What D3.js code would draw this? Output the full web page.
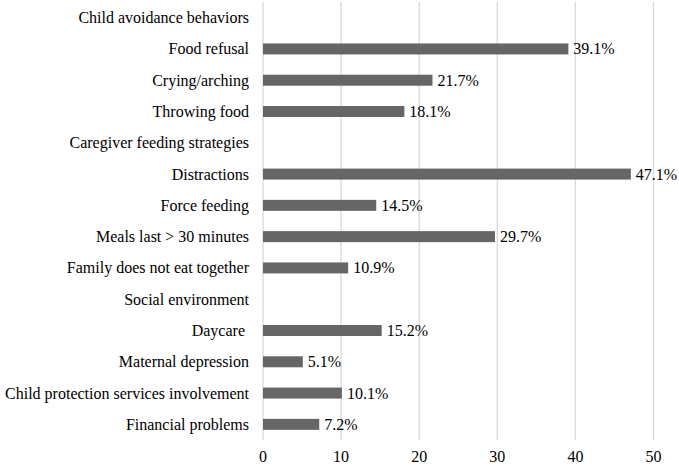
<!DOCTYPE html>
<html><head><meta charset="utf-8">
<script src="https://cdn.jsdelivr.net/npm/d3@7"></script>
</head><body style="margin:0"><svg id="c" width="679" height="467"></svg>
<script>
const categories = ["Child avoidance behaviors","Food refusal","Crying/arching","Throwing food","Caregiver feeding strategies","Distractions","Force feeding","Meals last > 30 minutes","Family does not eat together","Social environment","Daycare\u00a0","Maternal depression","Child protection services involvement","Financial problems"];
const values = [null,39.1,21.7,18.1,null,47.1,14.5,29.7,10.9,null,15.2,5.1,10.1,7.2];
const xTicks = [0,10,20,30,40,50];

const svg = d3.select("#c");
const x = d3.scaleLinear().domain([0,50]).range([263,653.5]);
const y = d3.scaleBand().domain(categories).range([2,440]);
const fs = 16, ff = "Times";

svg.append("g").selectAll("line").data(xTicks).join("line")
  .attr("x1",d=>x(d)).attr("x2",d=>x(d)).attr("y1",2).attr("y2",440)
  .attr("stroke","#d9d9d9").attr("stroke-width",1.3);

const data = categories.map((c,i)=>({c,v:values[i]}));
svg.append("g").selectAll("rect").data(data.filter(d=>d.v!=null)).join("rect")
  .attr("x",x(0)).attr("width",d=>x(d.v)-x(0))
  .attr("y",d=>y(d.c)+y.bandwidth()/2-5.5).attr("height",11)
  .attr("fill","#666666");

svg.append("g").selectAll("text").data(data.filter(d=>d.v!=null)).join("text")
  .attr("font-family",ff).attr("font-size",fs)
  .attr("x",d=>x(d.v)+5).attr("y",d=>y(d.c)+y.bandwidth()/2+5.5)
  .text(d=>d.v.toFixed(1)+"%");

svg.append("g").selectAll("text").data(categories).join("text")
  .attr("font-family",ff).attr("font-size",fs)
  .attr("x",249).attr("y",d=>y(d)+y.bandwidth()/2+5.5)
  .attr("text-anchor","end").text(d=>d);

svg.append("g").selectAll("text").data(xTicks).join("text")
  .attr("font-family",ff).attr("font-size",fs)
  .attr("x",d=>x(d)).attr("y",461.5)
  .attr("text-anchor","middle").text(d=>d);
</script></body></html>
